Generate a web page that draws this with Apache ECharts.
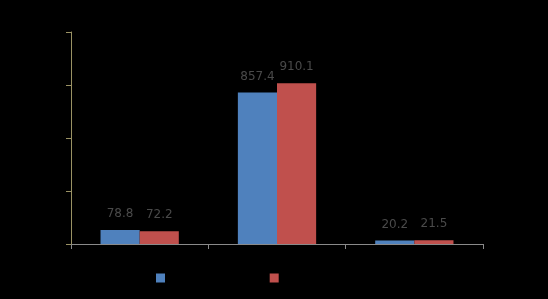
<!DOCTYPE html>
<html>
<head>
<meta charset="utf-8">
<script src="https://cdn.jsdelivr.net/npm/echarts@6/dist/echarts.min.js"></script>
<style>
  html, body { margin: 0; padding: 0; background: #000; }
  #chart { width: 548px; height: 299px; }
</style>
</head>
<body>
<div id="chart"></div>
<script>
// 数据
const categories = ['A', 'B', 'C'];
const seriesNames = ['2019', '2020'];
const seriesA = [78.8, 857.4, 20.2];
const seriesB = [72.2, 910.1, 21.5];
const yTicks = { min: 0, max: 1200, interval: 300 };

const chart = echarts.init(document.getElementById('chart'), null, { renderer: 'canvas' });

const labelStyle = {
  show: true,
  position: 'top',
  distance: 10,
  color: '#4a4a4a',
  fontSize: 12,
  fontFamily: 'DejaVu Sans'
};

chart.setOption({
  backgroundColor: 'transparent',
  animation: false,
  grid: { left: 71, right: 65, top: 32, bottom: 55 },
  legend: {
    data: seriesNames,
    left: 151,
    top: 267,
    itemWidth: 9,
    itemHeight: 9,
    itemGap: 73,
    icon: 'rect',
    textStyle: { color: '#000', fontSize: 12 }
  },
  xAxis: {
    type: 'category',
    data: categories,
    axisLine: { lineStyle: { color: '#8a8a8a', width: 1 } },
    axisTick: { show: true, length: 5, lineStyle: { color: '#8a8a8a' } },
    axisLabel: { color: '#000' }
  },
  yAxis: {
    type: 'value',
    min: yTicks.min,
    max: yTicks.max,
    interval: yTicks.interval,
    axisLine: { show: true, lineStyle: { color: '#9a9264', width: 1 } },
    axisTick: { show: true, length: 5, lineStyle: { color: '#9a9264' } },
    axisLabel: { color: '#000' },
    splitLine: { show: false }
  },
  series: [
    {
      name: seriesNames[0],
      type: 'bar',
      data: seriesA,
      barGap: '0%',
      barCategoryGap: '43%',
      itemStyle: { color: '#4F81BD' },
      label: labelStyle
    },
    {
      name: seriesNames[1],
      type: 'bar',
      data: seriesB,
      itemStyle: { color: '#C0504D' },
      label: labelStyle
    }
  ]
});
</script>
</body>
</html>
